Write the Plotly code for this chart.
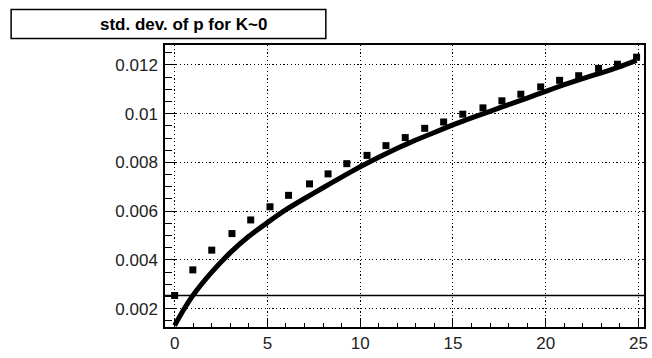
import plotly.graph_objects as go

# ---- data ----
marker_x = [0, 0.98, 2.0, 3.09, 4.1, 5.14, 6.14, 7.27, 8.27, 9.28, 10.37, 11.39, 12.43,
            13.48, 14.5, 15.53, 16.62, 17.64, 18.66, 19.73, 20.75, 21.78, 22.85, 23.87, 24.9]
marker_y = [0.00254, 0.00359, 0.00440, 0.00508, 0.00564, 0.00618, 0.00665, 0.00712, 0.00753,
            0.00795, 0.00829, 0.00869, 0.00902, 0.00940, 0.00966, 0.00998, 0.01024, 0.01053,
            0.01080, 0.01110, 0.01137, 0.01156, 0.01186, 0.01203, 0.01232]

curve_x = [0, 0.45, 1, 2, 3, 4, 5, 6, 7, 8, 9, 10, 11, 12, 13, 14, 15, 16, 17, 18, 19, 20,
           21, 22, 23, 24, 24.9]
curve_y = [0.00131, 0.00191, 0.00256, 0.00350, 0.00430, 0.00497, 0.00553, 0.00606, 0.00652,
           0.00696, 0.00740, 0.00782, 0.00821, 0.00858, 0.00892, 0.00923, 0.00954, 0.00983,
           0.01010, 0.01037, 0.01064, 0.01092, 0.01119, 0.01144, 0.01168, 0.01193, 0.01219]

ref_level = 0.00254

x_tickvals = [0, 5, 10, 15, 20, 25]
x_ticktext = ["0", "5", "10", "15", "20", "25"]
y_tickvals = [0.002, 0.004, 0.006, 0.008, 0.010, 0.012]
y_ticktext = ["0.002", "0.004", "0.006", "0.008", "0.01", "0.012"]

title_text = "std. dev. of p for K~0"

# ---- figure ----
W, H = 652, 358
ml, mr, mt, mb = 165, 4.5, 45, 21.3
pw = W - ml - mr
ph = H - mt - mb

def px_to_paper_x(px):
    return (px - ml) / pw

def px_to_paper_y(py):
    return (H - mb - py) / ph

fig = go.Figure()

fig.add_trace(go.Scatter(
    x=curve_x, y=curve_y, mode="lines",
    line=dict(color="black", width=5, shape="spline", smoothing=0.4),
    showlegend=False, hoverinfo="skip"))

fig.add_trace(go.Scatter(
    x=marker_x, y=marker_y, mode="markers",
    marker=dict(symbol="square", size=7, color="black"),
    showlegend=False))

fig.add_shape(type="line", xref="paper", yref="y", x0=0, x1=1, y0=ref_level, y1=ref_level,
              line=dict(color="black", width=1.5))

# title box
fig.add_shape(type="rect", xref="paper", yref="paper",
              x0=px_to_paper_x(10), x1=px_to_paper_x(327),
              y0=px_to_paper_y(38.3), y1=px_to_paper_y(8.3),
              line=dict(color="black", width=1.5), fillcolor="white", layer="above")
fig.add_annotation(text="<b>" + title_text + "</b>", xref="paper", yref="paper",
                   x=px_to_paper_x(183.5), y=px_to_paper_y(23.5),
                   xanchor="center", yanchor="middle", showarrow=False,
                   font=dict(family="Liberation Sans", size=17, color="black"))

axis_common = dict(
    showline=True, linecolor="black", linewidth=1.5, mirror=True,
    showgrid=True, gridcolor="black", gridwidth=1.2, griddash="1.2px,2.5px",
    zeroline=False, ticks="inside", tickcolor="black", tickwidth=1,
    tickfont=dict(family="Liberation Sans", size=17, color="#222222"),
)

fig.update_xaxes(
    range=[-0.52, 25.3], tickvals=x_tickvals, ticktext=x_ticktext, ticklen=9,
    minor=dict(ticks="inside", ticklen=4, dtick=1, tick0=0, tickcolor="black", showgrid=False),
    **axis_common)
fig.update_yaxes(
    range=[0.001246, 0.01282], tickvals=y_tickvals, ticktext=y_ticktext, ticklen=12,
    ticklabelstandoff=2,
    minor=dict(ticks="inside", ticklen=7, dtick=0.0005, tick0=0, tickcolor="black", showgrid=False),
    **axis_common)

fig.update_layout(
    width=W, height=H,
    margin=dict(l=ml, r=mr, t=mt, b=mb, pad=0),
    paper_bgcolor="white", plot_bgcolor="white",
    showlegend=False,
)

fig.write_html("out.html", config={"displayModeBar": False},
               post_script="document.body.style.margin='0px';document.body.style.overflow='hidden';")
